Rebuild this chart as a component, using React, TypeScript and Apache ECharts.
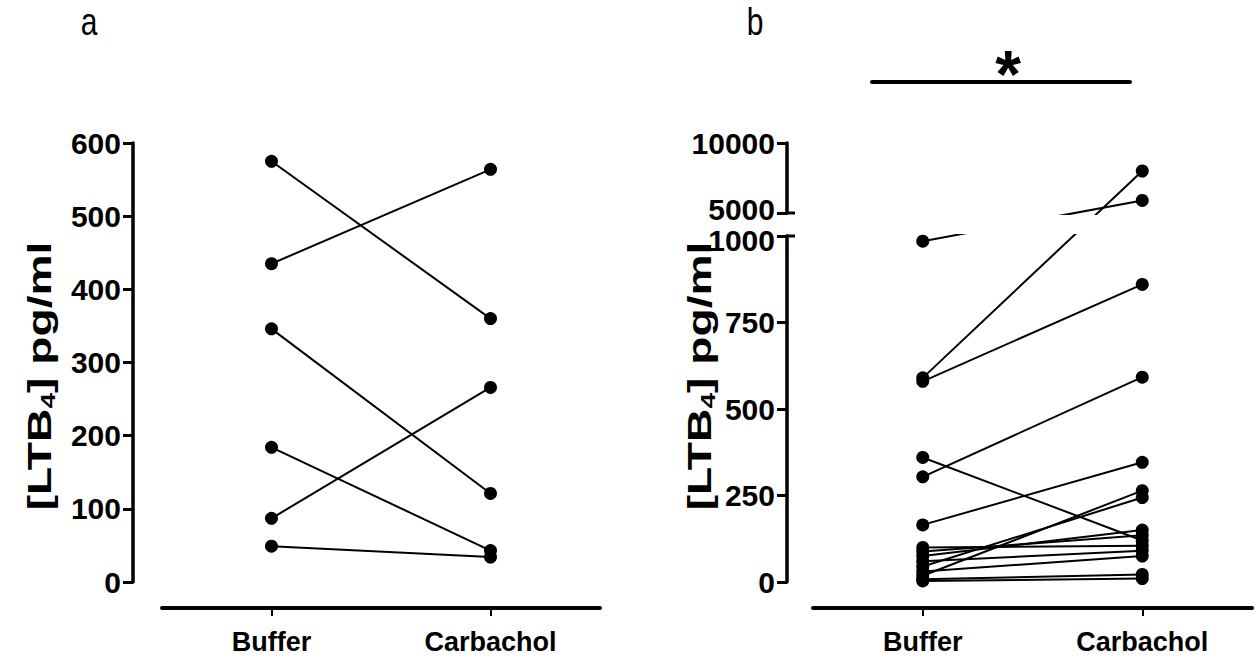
import React, { useEffect, useRef } from "react";
import * as echarts from "echarts";

// ---- data ----
const categories = ["Buffer", "Carbachol"];
const bufferA = [575, 435, 346, 184, 87, 49];
const carbacholA = [360, 564, 121, 43, 266, 34];
const bufferB = [985, 590, 580, 360, 304, 165, 100, 88, 75, 60, 45, 30, 18, 8, 3];
const carbacholB = [5900, 8000, 860, 120, 592, 346, 105, 135, 150, 90, 244, 75, 264, 22, 10];
const ticksA = [0, 600, 100];
const lowerTicks = [0, 1000, 250];
const upperTicks = [5000, 10000, 5000];

// ---- layout ----
const FONT = '"Liberation Sans", Arial, Helvetica, sans-serif';
const TOP = 143;
const A_LEFT = 162;
const A_W = 438;
const A_H = 439;
const B_LEFT = 813;
const B_W = 439;
const UP_H = 70;
const GAP_H = 23;
const LOW_H = 346;
const B_H = UP_H + GAP_H + LOW_H;
const Y_OFF_A = 29;
const Y_OFF_B = 26;
const X_OFF = 26;

// broken-axis mapping (value -> display units = px from bottom)
const display = (v: number) =>
  v <= lowerTicks[1]
    ? (v / lowerTicks[1]) * LOW_H
    : LOW_H + GAP_H + ((v - upperTicks[0]) / (upperTicks[1] - upperTicks[0])) * UP_H;

const axisLabelStyle = {
  color: "#000",
  fontSize: 30,
  fontWeight: "bold" as const,
  fontFamily: FONT,
};

const catAxis = (gridIndex: number) => ({
  gridIndex,
  type: "category",
  data: categories,
  boundaryGap: true,
  offset: X_OFF,
  axisLine: { show: true, onZero: false, lineStyle: { color: "#000", width: 4 } },
  axisTick: { show: true, alignWithLabel: true, length: 8, lineStyle: { color: "#000", width: 2 } },
  axisLabel: { ...axisLabelStyle, fontSize: 27, margin: 20 },
  splitLine: { show: false },
});

const valAxis = (gridIndex: number, t: number[], offset: number, formatter: any) => ({
  gridIndex,
  type: "value",
  min: t[0],
  max: t[1],
  interval: t[2],
  offset,
  axisLine: { show: true, onZero: false, lineStyle: { color: "#000", width: 3.5 } },
  axisTick: { show: true, length: 10, lineStyle: { color: "#000", width: 3 } },
  axisLabel: {
    ...axisLabelStyle,
    margin: 12,
    formatter,
    rich: {
      up: { ...axisLabelStyle, padding: [0, 0, 8, 0] },
      dn: { ...axisLabelStyle, padding: [8, 0, 0, 0] },
    },
  },
  splitLine: { show: false },
});

const plain = (v: number) => String(v);
const upperFmt = (v: number) => (v === upperTicks[0] ? `{up|${v}}` : String(v));
const lowerFmt = (v: number) => (v === lowerTicks[1] ? `{dn|${v}}` : String(v));

const lineSeries = (xi: number, a: number, b: number) => ({
  type: "line",
  xAxisIndex: xi,
  yAxisIndex: xi,
  data: [a, b],
  symbol: "circle",
  symbolSize: 13,
  showSymbol: true,
  itemStyle: { color: "#000" },
  lineStyle: { color: "#000", width: 2 },
  silent: true,
  z: 3,
});

const titleText = (x: number) => ({
  type: "text",
  x,
  y: 376,
  rotation: Math.PI / 2,
  scaleX: 1.4,
  style: {
    text: "{a|[LTB}{s|4}{a|] pg/ml}",
    fill: "#000",
    align: "center",
    verticalAlign: "middle",
    textAlign: "center",
    textVerticalAlign: "middle",
    rich: {
      a: { fontSize: 33, fontWeight: "bold", fontFamily: FONT, fill: "#000", lineHeight: 40 },
      s: { fontSize: 20, fontWeight: "bold", fontFamily: FONT, fill: "#000", lineHeight: 40, padding: [16, 0, 0, 0] },
    },
  },
  z: 50,
});

const panelLabel = (x: number, t: string) => ({
  type: "text",
  x,
  y: 22,
  scaleY: 1.3,
  style: {
    text: t,
    fill: "#000",
    font: `30px ${FONT}`,
    align: "center",
    verticalAlign: "middle",
    textAlign: "center",
    textVerticalAlign: "middle",
  },
});

const breakY1 = TOP + UP_H;
const breakY2 = TOP + UP_H + GAP_H;
const axisXB = B_LEFT - Y_OFF_B;

export default function App() {
  const ref = useRef<HTMLDivElement>(null);
  useEffect(() => {
    if (!ref.current) return;
    const chart = echarts.init(ref.current, null, { renderer: "svg" });
    const option: any = {
      animation: false,
      backgroundColor: "#fff",
      grid: [
        { left: A_LEFT, top: TOP, width: A_W, height: A_H, outerBoundsMode: "none" },
        { left: B_LEFT, top: TOP, width: B_W, height: B_H, outerBoundsMode: "none" },
        { left: B_LEFT, top: TOP, width: B_W, height: UP_H, outerBoundsMode: "none" },
        { left: B_LEFT, top: breakY2, width: B_W, height: LOW_H, outerBoundsMode: "none" },
      ],
      xAxis: [
        catAxis(0),
        catAxis(1),
        { gridIndex: 2, type: "value", show: false, min: 0, max: 1 },
        { gridIndex: 3, type: "value", show: false, min: 0, max: 1 },
      ],
      yAxis: [
        valAxis(0, ticksA, Y_OFF_A, plain),
        { gridIndex: 1, type: "value", show: false, min: 0, max: B_H },
        valAxis(2, upperTicks, Y_OFF_B, upperFmt),
        valAxis(3, lowerTicks, Y_OFF_B, lowerFmt),
      ],
      series: [
        ...bufferA.map((b, i) => lineSeries(0, b, carbacholA[i])),
        ...bufferB.map((b, i) => lineSeries(1, display(b), display(carbacholB[i]))),
      ],
      graphic: [
        // mask the break band in panel b
        {
          type: "rect",
          shape: { x: axisXB + 9, y: breakY1 + 2, width: 1256 - axisXB, height: GAP_H - 4 },
          style: { fill: "#fff" },
          z: 100,
        },
        {
          type: "line",
          shape: { x1: axisXB - 1, y1: breakY1, x2: axisXB + 8, y2: breakY1 },
          style: { stroke: "#000", lineWidth: 3 },
          z: 101,
        },
        {
          type: "line",
          shape: { x1: axisXB - 1, y1: breakY2, x2: axisXB + 8, y2: breakY2 },
          style: { stroke: "#000", lineWidth: 3 },
          z: 101,
        },
        titleText(40),
        titleText(700),
        panelLabel(89, "a"),
        panelLabel(755, "b"),
        {
          type: "line",
          shape: { x1: 872, y1: 82, x2: 1130, y2: 82 },
          style: { stroke: "#000", lineWidth: 4, lineCap: "round" },
        },
        {
          type: "text",
          x: 1008,
          y: 74,
          style: {
            text: "*",
            fill: "#000",
            font: `bold 66px ${FONT}`,
            align: "center",
            verticalAlign: "middle",
            textAlign: "center",
            textVerticalAlign: "middle",
          },
        },
      ],
    };
    chart.setOption(option);
    return () => chart.dispose();
  }, []);
  return (
    <div
      ref={ref}
      style={{ position: "fixed", left: 0, top: 0, width: 1256, height: 664, background: "#fff" }}
    />
  );
}
